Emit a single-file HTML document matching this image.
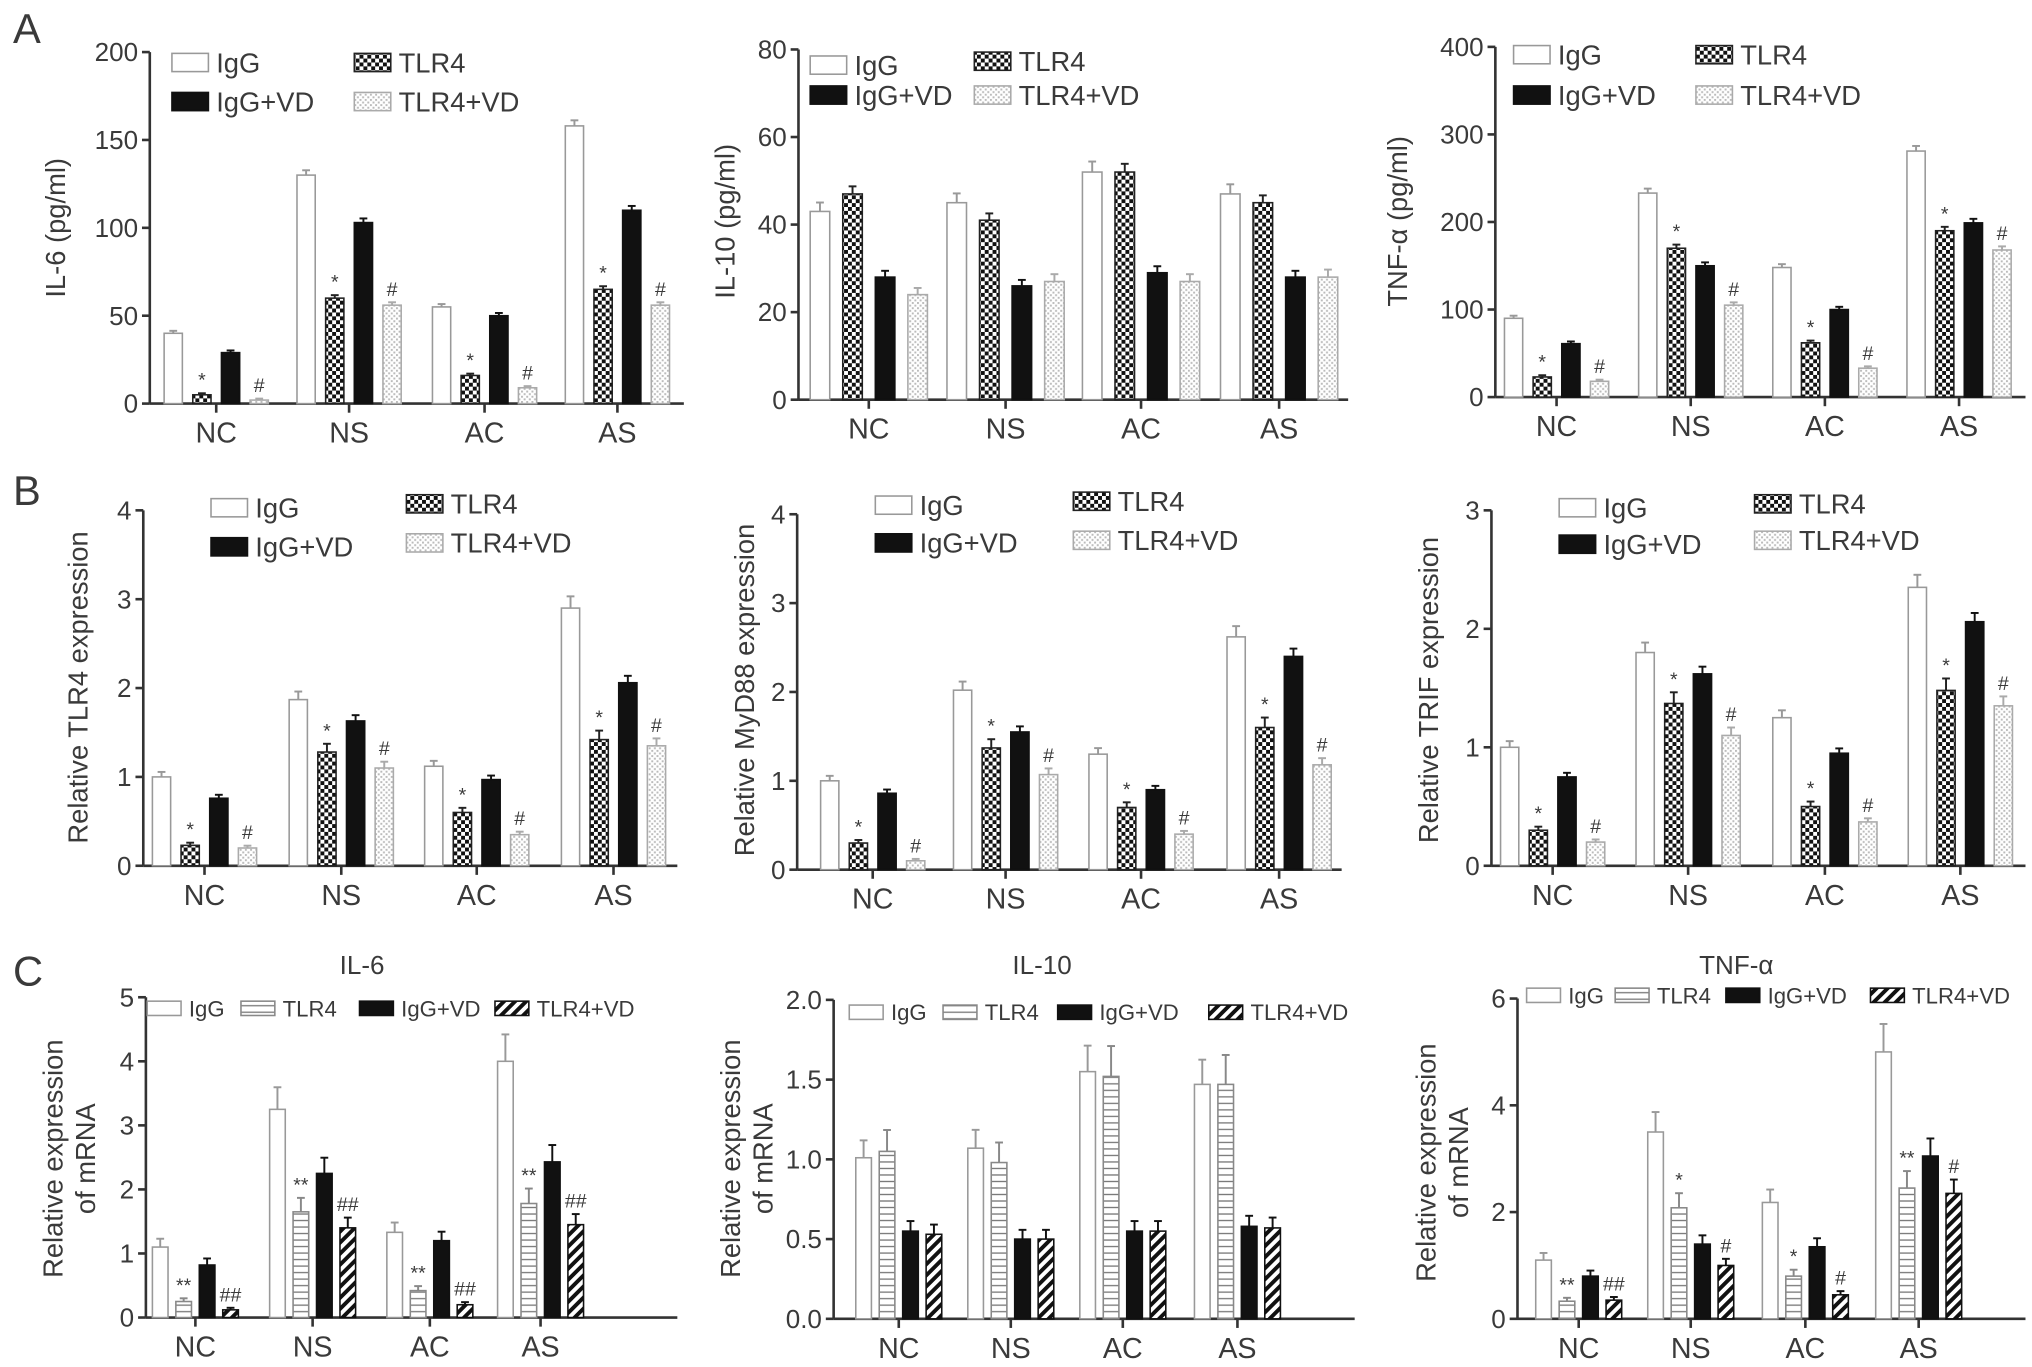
<!DOCTYPE html>
<html><head><meta charset="utf-8"><style>
html,body{margin:0;padding:0;background:#fff}
svg{display:block}
text{font-family:"Liberation Sans",sans-serif;fill:#3a3a3a}
</style></head><body>
<svg id="fig" width="2032" height="1367" viewBox="0 0 1560 1050" preserveAspectRatio="none" xmlns="http://www.w3.org/2000/svg">
<defs>
<pattern id="chk" width="6" height="6" patternUnits="userSpaceOnUse"><rect width="6" height="6" fill="#fff"/><rect width="3" height="3" fill="#111"/><rect x="3" y="3" width="3" height="3" fill="#111"/></pattern>
<pattern id="dot" width="4" height="4" patternUnits="userSpaceOnUse"><rect width="4" height="4" fill="#fff"/><rect width="1.5" height="1.5" fill="#bbb"/><rect x="2" y="2" width="1.5" height="1.5" fill="#bbb"/></pattern>
<pattern id="hstr" width="4" height="5" patternUnits="userSpaceOnUse"><rect width="4" height="5" fill="#fff"/><rect y="2" width="4" height="1" fill="#777"/></pattern>
<pattern id="diag" width="6" height="6" patternUnits="userSpaceOnUse" patternTransform="rotate(45)"><rect width="6" height="6" fill="#fff"/><rect width="3" height="6" fill="#111"/></pattern>
</defs>
<g id="root"></g>
</svg>
<script>
// ---- data ----
const categories = ["NC","NS","AC","AS"];
// A1 IL-6
const a1IgG=[40,130,55,158], a1TLR4=[5,60,16,65], a1IgGVD=[29,103,50,110], a1TLR4VD=[2,56,9,56];
const a1Ticks=[0,50,100,150,200];
// A2 IL-10
const a2IgG=[43,45,52,47], a2TLR4=[47,41,52,45], a2IgGVD=[28,26,29,28], a2TLR4VD=[24,27,27,28];
const a2Ticks=[0,20,40,60,80];
// A3 TNF
const a3IgG=[90,233,148,281], a3TLR4=[23,170,62,190], a3IgGVD=[61,150,100,199], a3TLR4VD=[18,105,33,168];
const a3Ticks=[0,100,200,300,400];
// B1
const b1IgG=[1.0,1.87,1.12,2.9], b1TLR4=[0.23,1.28,0.6,1.42], b1IgGVD=[0.76,1.63,0.97,2.06], b1TLR4VD=[0.2,1.1,0.35,1.35];
const b1Ticks=[0,1,2,3,4];
// B2
const b2IgG=[1.0,2.02,1.3,2.62], b2TLR4=[0.3,1.37,0.7,1.6], b2IgGVD=[0.86,1.55,0.9,2.4], b2TLR4VD=[0.1,1.07,0.4,1.18];
const b2Ticks=[0,1,2,3,4];
// B3
const b3IgG=[1.0,1.8,1.25,2.35], b3TLR4=[0.3,1.37,0.5,1.48], b3IgGVD=[0.75,1.62,0.95,2.06], b3TLR4VD=[0.2,1.1,0.37,1.35];
const b3Ticks=[0,1,2,3];
// C1
const c1IgG=[1.1,3.25,1.33,4.0], c1TLR4=[0.25,1.65,0.42,1.78], c1IgGVD=[0.82,2.25,1.2,2.43], c1TLR4VD=[0.12,1.4,0.2,1.45];
const c1Ticks=["0","1","2","3","4","5"];
// C2
const c2IgG=[1.01,1.07,1.55,1.47], c2TLR4=[1.05,0.98,1.52,1.47], c2IgGVD=[0.55,0.5,0.55,0.58], c2TLR4VD=[0.53,0.5,0.55,0.57];
const c2Ticks=["0.0","0.5","1.0","1.5","2.0"];
// C3
const c3IgG=[1.1,3.5,2.18,5.0], c3TLR4=[0.33,2.08,0.8,2.45], c3IgGVD=[0.8,1.4,1.35,3.05], c3TLR4VD=[0.35,1.0,0.45,2.35];
const c3Ticks=["0","2","4","6"];
// relative error fraction of value (read approx)
const errA=[0.015,0.015,0.015,0.015];
const errA2=[0.04,0.03,0.04,0.05];
const errB=[0.04,0.06,0.03,0.05];
const errC=[0.1,0.12,0.1,0.1];

const NS="http://www.w3.org/2000/svg";
const root=document.getElementById('root');
function mk(tag,attrs,parent){const e=document.createElementNS(NS,tag);for(const k in attrs)e.setAttribute(k,attrs[k]);(parent||root).appendChild(e);return e;}
function txt(s,x,y,size,anchor,parent,rot){const t=mk('text',{x:x,y:y,'font-size':size,'text-anchor':anchor||'start'},parent);if(rot)t.setAttribute('transform',`rotate(-90 ${x} ${y})`);t.textContent=s;return t;}

function panel(cfg){
  const g=mk('g',{});
  
  
  const max=parseFloat(cfg.ticks[cfg.ticks.length-1]);
  const ys=v=>cfg.base-(v/max)*(cfg.base-cfg.top);
  const ax=mk('line',{x1:cfg.ax,y1:cfg.top,x2:cfg.ax,y2:cfg.base,stroke:'#333','stroke-width':2},g);
  
  
  const xa=mk('line',{x1:cfg.ax,y1:cfg.base,x2:cfg.end,y2:cfg.base,stroke:'#333','stroke-width':2},g);
  
  
  cfg.ticks.forEach(t=>{
    const y=ys(parseFloat(t));
    mk('line',{x1:cfg.ax-6,y1:y,x2:cfg.ax,y2:y,stroke:'#333','stroke-width':2},g);
    const tl=txt(String(t),cfg.ax-9,y+7,cfg.tfs,'end',g);
    
    
  });
  categories.forEach((c,i)=>{
    const cx=cfg.cats[i];
    mk('line',{x1:cx,y1:cfg.base,x2:cx,y2:cfg.base+7,stroke:'#333','stroke-width':2},g);
    const cl=txt(c,cx,cfg.base+30,cfg.cfs,'middle',g);
    
    
    cfg.series.forEach((s,j)=>{
      const v=s.vals[i];
      const bx=cx+(j-1.5)*cfg.pitch-cfg.bw/2;
      const y=ys(v);
      const e=v*cfg.err[j]+max*0.004;
      mk('line',{x1:bx+cfg.bw/2,y1:y,x2:bx+cfg.bw/2,y2:ys(v+e),stroke:s.stroke,'stroke-width':1.5},g);
      mk('line',{x1:bx+cfg.bw/2-3,y1:ys(v+e),x2:bx+cfg.bw/2+3,y2:ys(v+e),stroke:s.stroke,'stroke-width':1.5},g);
      const r=mk('rect',{x:bx,y:y,width:cfg.bw,height:cfg.base-y,fill:s.fill,stroke:s.stroke,'stroke-width':1.2},g);
      
      
      if(s.mark){const m=txt(s.mark[i],bx+cfg.bw/2,ys(v+e)-5,cfg.mfs,'middle',g);
        
        }
    });
  });
  cfg.legend.forEach((L,j)=>{
    const s=cfg.series[j];
    const sw=mk('rect',{x:L[0],y:L[1],width:cfg.lw,height:cfg.lh,fill:s.fill,stroke:s.stroke,'stroke-width':1.2},g);
    
    
    const lt=txt(s.label,L[0]+cfg.lw+6,L[1]+cfg.lh/2+cfg.lfs*0.36,cfg.lfs,'start',g);
    
    
  });
  cfg.ylabel.forEach((l,k)=>{
    const t=txt(l,cfg.ylx+k*cfg.lineGap,cfg.yly,cfg.yfs,'middle',g,true);
    
    
  });
}
const S=["*","*","*","*"], H=["#","#","#","#"];
function abSeries(a,b,c,d,noMarks){return [
 {label:"IgG",vals:a,fill:"#fff",stroke:"#999"},
 {label:"TLR4",vals:b,fill:"url(#chk)",stroke:"#222",mark:noMarks?null:S},
 {label:"IgG+VD",vals:c,fill:"#111",stroke:"#111"},
 {label:"TLR4+VD",vals:d,fill:"url(#dot)",stroke:"#aaa",mark:noMarks?null:H}];}
function cSeries(a,b,c,d,ms,mh){return [
 {label:"IgG",vals:a,fill:"#fff",stroke:"#999"},
 {label:"TLR4",vals:b,fill:"url(#hstr)",stroke:"#888",mark:ms},
 {label:"IgG+VD",vals:c,fill:"#111",stroke:"#111"},
 {label:"TLR4+VD",vals:d,fill:"url(#diag)",stroke:"#111",mark:mh}];}
const base={tfs:20,cfs:22,mfs:15,lfs:21,lw:28,lh:14,yfs:21,pitch:22,bw:14,err:errB,lineGap:0};
panel(Object.assign({},base,{name:'chart-a-il6',err:errA,ax:115,top:40,base:310,end:525,cats:[166,268,372,474],ticks:a1Ticks,series:abSeries(a1IgG,a1TLR4,a1IgGVD,a1TLR4VD),legend:[[132,41],[272,41],[132,71],[272,71]],ylabel:["IL-6 (pg/ml)"],ylx:50,yly:175}));
panel(Object.assign({},base,{name:'chart-a-il10',err:errA2,ax:613,top:38,base:307,end:1035,cats:[667,772,876,982],pitch:25,bw:15,ticks:a2Ticks,series:abSeries(a2IgG,a2TLR4,a2IgGVD,a2TLR4VD,true),legend:[[622,43],[748,40],[622,66],[748,66]],ylabel:["IL-10 (pg/ml)"],ylx:564,yly:170}));
panel(Object.assign({},base,{name:'chart-a-tnf',err:errA,ax:1148,top:36,base:305,end:1555,cats:[1195,1298,1401,1504],ticks:a3Ticks,series:abSeries(a3IgG,a3TLR4,a3IgGVD,a3TLR4VD),legend:[[1162,35],[1302,35],[1162,66],[1302,66]],ylabel:["TNF-α (pg/ml)"],ylx:1080,yly:170}));
panel(Object.assign({},base,{name:'chart-b-tlr4',ax:110,top:392,base:665,end:520,cats:[157,262,366,471],ticks:b1Ticks,series:abSeries(b1IgG,b1TLR4,b1IgGVD,b1TLR4VD),legend:[[162,383],[312,380],[162,413],[312,410]],ylabel:["Relative TLR4 expression"],ylx:67,yly:528}));
panel(Object.assign({},base,{name:'chart-b-myd88',ax:612,top:395,base:668,end:1030,cats:[670,772,876,982],ticks:b2Ticks,series:abSeries(b2IgG,b2TLR4,b2IgGVD,b2TLR4VD),legend:[[672,381],[824,378],[672,410],[824,408]],ylabel:["Relative MyD88 expression"],ylx:579,yly:530}));
panel(Object.assign({},base,{name:'chart-b-trif',ax:1145,top:392,base:665,end:1555,cats:[1192,1296,1401,1505],ticks:b3Ticks,series:abSeries(b3IgG,b3TLR4,b3IgGVD,b3TLR4VD),legend:[[1197,383],[1347,380],[1197,411],[1347,408]],ylabel:["Relative TRIF expression"],ylx:1104,yly:530}));
const cb=Object.assign({},base,{pitch:18,bw:12,err:errC,lfs:17,lw:26,lh:11,mfs:15,lineGap:25});
panel(Object.assign({},cb,{name:'chart-c-il6',ax:112,top:766,base:1012,end:520,cats:[150,240,330,415],ticks:c1Ticks,series:cSeries(c1IgG,c1TLR4,c1IgGVD,c1TLR4VD,["**","**","**","**"],["##","##","##","##"]),legend:[[113,769],[185,769],[276,769],[380,769]],ylabel:["Relative expression","of mRNA"],ylx:48,yly:890}));
panel(Object.assign({},cb,{name:'chart-c-il10',ax:640,top:768,base:1013,end:1040,cats:[690,776,862,950],ticks:c2Ticks,series:cSeries(c2IgG,c2TLR4,c2IgGVD,c2TLR4VD,null,null),legend:[[652,772],[724,772],[812,772],[928,772]],ylabel:["Relative expression","of mRNA"],ylx:568,yly:890}));
panel(Object.assign({},cb,{name:'chart-c-tnf',ax:1165,top:767,base:1013,end:1555,cats:[1212,1298,1386,1473],ticks:c3Ticks,series:cSeries(c3IgG,c3TLR4,c3IgGVD,c3TLR4VD,["**","*","*","**"],["##","#","#","#"]),legend:[[1172,759],[1240,759],[1325,759],[1436,759]],ylabel:["Relative expression","of mRNA"],ylx:1102,yly:893}));
[["A",10,33],["B",10,388],["C",10,757]].forEach(p=>{const t=txt(p[0],p[1],p[2],32,'start');});
[["IL-6",278,748],["IL-10",800,748],["TNF-α",1333,748]].forEach(p=>{const t=txt(p[0],p[1],p[2],20,'middle');});
</script>
</body></html>
